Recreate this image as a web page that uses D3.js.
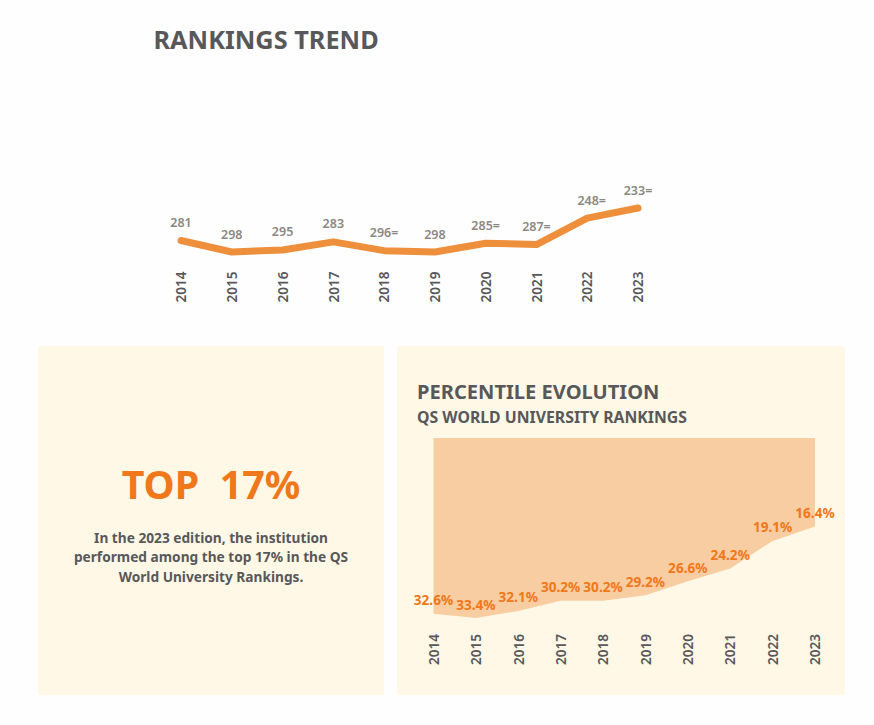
<!DOCTYPE html>
<html>
<head>
<meta charset="utf-8">
<script src="https://cdn.jsdelivr.net/npm/d3@7"></script>
<style>
  html, body { margin: 0; padding: 0; background: #fefefe; }
  text { font-family: "Noto Sans", "Open Sans", sans-serif; }
</style>
</head>
<body>
<div id="wrapper"></div>
<script>
const years = ["2014","2015","2016","2017","2018","2019","2020","2021","2022","2023"]
const rankValues = [281,298,295,283,296,298,285,287,248,233]
const rankLabels = ["281","298","295","283","296=","298","285=","287=","248=","233="]
const percentileValues = [32.6,33.4,32.1,30.2,30.2,29.2,26.6,24.2,19.1,16.4]
const bodyLines = [
    "In the 2023 edition, the institution",
    "performed among the top 17% in the QS",
    "World University Rankings."
]

const grey = "#58585a"
const orange = "#f0781a"

const svg = d3.select("#wrapper")
    .append("svg")
    .attr("width", 874)
    .attr("height", 725)
    .style("display", "block")

// panels
svg.append("rect").attr("x", 38).attr("y", 346).attr("width", 346).attr("height", 349).attr("rx", 2).attr("fill", "#fff8e6")
svg.append("rect").attr("x", 397).attr("y", 346).attr("width", 448).attr("height", 349).attr("rx", 2).attr("fill", "#fff8e6")

// titles
svg.append("text").text("RANKINGS TREND")
    .attr("x", 153.5).attr("y", 49)
    .attr("font-size", 25.3).attr("font-weight", 700).attr("fill", grey)
svg.append("text").text("PERCENTILE EVOLUTION")
    .attr("x", 417).attr("y", 399)
    .attr("font-size", 20.1).attr("font-weight", 700).attr("fill", grey)
svg.append("text").text("QS WORLD UNIVERSITY RANKINGS")
    .attr("x", 417).attr("y", 423)
    .attr("font-size", 15.8).attr("font-weight", 700).attr("fill", grey)

// left panel
svg.append("text").text("TOP  17%")
    .attr("x", 211).attr("y", 499)
    .attr("text-anchor", "middle")
    .style("white-space", "pre")
    .attr("font-size", 39.4).attr("font-weight", 700).attr("fill", orange)
svg.append("g").selectAll("text")
    .data(bodyLines)
    .join("text")
    .text(d => d)
    .attr("x", 211)
    .attr("y", (d, i) => 543 + i * 19.3)
    .attr("text-anchor", "middle")
    .attr("font-size", 13.7).attr("font-weight", 700).attr("fill", grey)

// rankings line
const rankX = d3.scalePoint().domain(years).range([181, 638])
const rankY = d3.scaleLinear().domain([233, 298]).range([208, 252])

const rankLine = d3.line()
    .x((d, i) => rankX(years[i]))
    .y(d => rankY(d))

svg.append("path")
    .datum(rankValues)
    .attr("d", rankLine)
    .attr("fill", "none")
    .attr("stroke", "#ee8f3c")
    .attr("stroke-width", 7)
    .attr("stroke-linecap", "round")
    .attr("stroke-linejoin", "round")

svg.append("g").selectAll("text")
    .data(rankValues)
    .join("text")
    .text((d, i) => rankLabels[i])
    .attr("x", (d, i) => rankX(years[i]))
    .attr("dx", d => d === 248 ? 4.5 : 0) // the 2022 label sits a bit right of its point
    .attr("y", d => rankY(d) - 13.5)
    .attr("text-anchor", "middle")
    .attr("font-size", 12.5).attr("font-weight", 600).attr("fill", "#8c8781")

// percentile area
const pctX = d3.scalePoint().domain(years).range([433.5, 815])
const pctY = d3.scaleLinear().domain([0, 33.4]).range([438, 618])

const pctArea = d3.area()
    .x((d, i) => pctX(years[i]))
    .y0(pctY(0))
    .y1(d => pctY(d))

svg.append("path")
    .datum(percentileValues)
    .attr("d", pctArea)
    .attr("fill", "#f8cda1")

svg.append("g").selectAll("text")
    .data(percentileValues)
    .join("text")
    .text(d => d.toFixed(1) + "%")
    .attr("x", (d, i) => pctX(years[i]))
    .attr("y", d => pctY(d) - 8.5)
    .attr("text-anchor", "middle")
    .attr("font-size", 13.6).attr("font-weight", 700).attr("fill", orange)

// year axes
const drawYearAxis = (scale, y) => {
    const axis = svg.append("g")
        .attr("transform", `translate(0, ${y})`)
        .call(d3.axisBottom(scale).tickSize(0))
    axis.select(".domain").remove()
    axis.selectAll(".tick text")
        .attr("transform", "rotate(-90)")
        .attr("x", 0)
        .attr("y", 0)
        .attr("dy", "0.35em")
        .attr("text-anchor", "start")
        .attr("font-family", "'Noto Sans', 'Open Sans', sans-serif")
        .attr("font-size", 13.6)
        .attr("font-weight", 600)
        .attr("fill", grey)
}
drawYearAxis(rankX, 302.5)
drawYearAxis(pctX, 665)
</script>
</body>
</html>
